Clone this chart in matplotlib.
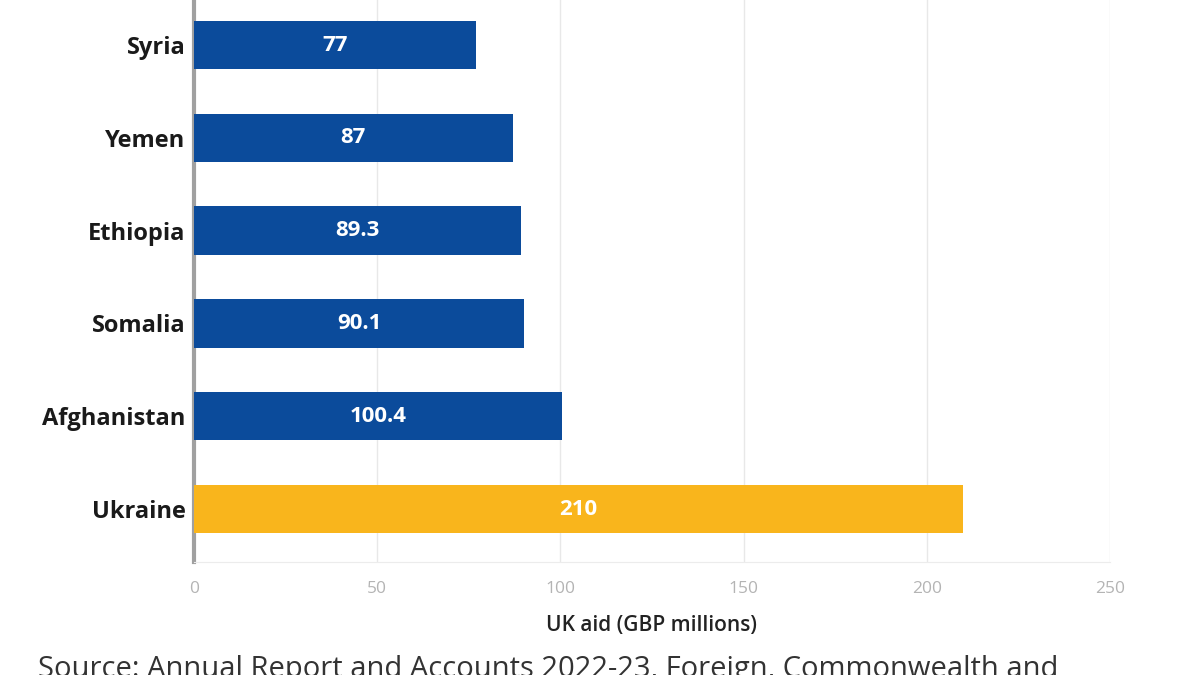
import matplotlib.pyplot as plt
import numpy as np

countries = ['Ukraine', 'Afghanistan', 'Somalia', 'Ethiopia', 'Yemen', 'Syria']
aid = [210, 100.4, 90.1, 89.3, 87, 77]
labels = ['210', '100.4', '90.1', '89.3', '87', '77']
colors = ['#F9B51C', '#0B4B9B', '#0B4B9B', '#0B4B9B', '#0B4B9B', '#0B4B9B']
xticks = [0, 50, 100, 150, 200, 250]

plt.rcParams['font.family'] = ['Open Sans', 'DejaVu Sans']

fig = plt.figure(figsize=(12, 6.75), dpi=100)
ax = fig.add_axes([194/1200, 1 - 562/675, 916/1200, 562/675])

y = np.arange(len(countries))
ax.barh(y, aid, height=0.52, color=colors, zorder=3)
for yi, v, lab in zip(y, aid, labels):
    ax.text(v / 2, yi, lab, ha='center', va='center', color='white',
            fontsize=16, fontweight='bold', zorder=4)

ax.set_xlim(0, 250)
ax.set_ylim(-0.571, 5.485)
ax.set_yticks(y)
ax.set_yticklabels(countries, fontsize=17, fontweight='bold', color='#1a1a1a')
ax.tick_params(axis='y', length=0, pad=6)
ax.set_xticks(xticks)
ax.set_xticklabels([str(t) for t in xticks], fontsize=12.5, color='#b4b4b4')
ax.tick_params(axis='x', length=0, pad=14)
ax.grid(axis='x', color='#e8e8e8', linewidth=1, zorder=0)

for s in ['top', 'right']:
    ax.spines[s].set_visible(False)
ax.spines['bottom'].set_color('#ececec')
ax.spines['left'].set_color('#a0a0a0')
ax.spines['left'].set_linewidth(3)

ax.set_xlabel('UK aid (GBP millions)', fontsize=15, fontweight='semibold',
              color='#222222', labelpad=13)

fig.text(38/1200, 1 - 670/675, 'Source: Annual Report and Accounts 2022-23, Foreign, Commonwealth and',
         fontsize=21, color='#333333', va='center', ha='left')

fig.savefig('out.png', dpi=100)
